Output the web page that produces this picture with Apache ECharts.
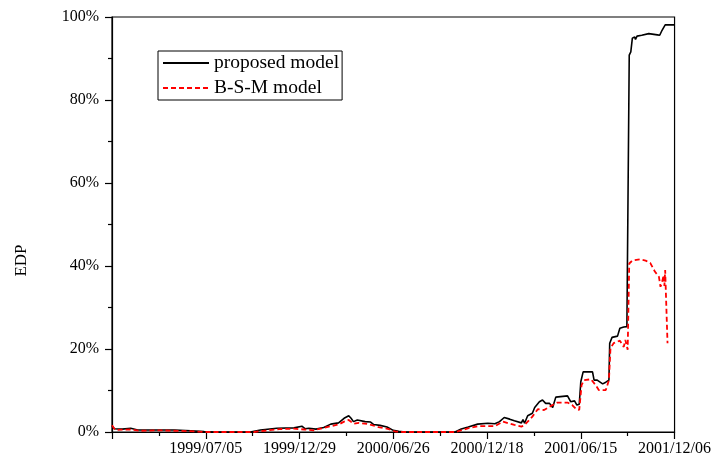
<!DOCTYPE html>
<html>
<head>
<meta charset="utf-8">
<script src="https://cdn.jsdelivr.net/npm/echarts@6/dist/echarts.min.js"></script>
<style>
  html, body { margin: 0; padding: 0; background: #fff; }
  #main { width: 714px; height: 463px; }
</style>
</head>
<body>
<div id="main"></div>
<script>
// x = trading day index, tick every 120 days
var xTickLabels = ['', '1999/07/05', '1999/12/29', '2000/06/26', '2000/12/18', '2001/06/15', '2001/12/06'];
var yTickLabels = ['0%', '20%', '40%', '60%', '80%', '100%'];

var proposedDay = [0, 3, 13, 24, 33, 59, 80, 101, 118, 131, 177, 190, 211, 233, 243, 247, 252, 261, 271, 280,
    290, 297, 303, 306, 309, 314, 324, 331, 335, 343, 352, 360, 367, 375, 439, 447, 456, 468, 481, 490,
    496, 502, 509, 515, 524, 526, 528, 532, 538, 541, 547, 551, 555, 560, 564, 568, 583, 587, 592, 595,
    598, 600, 603, 615, 617, 621, 628, 632, 636, 637, 640, 647, 650, 655, 659, 661, 662, 664, 666, 669,
    670, 672, 678, 687, 698, 701, 704, 708, 720];
var proposedEdp = [1.5, 0.8, 0.7, 0.9, 0.5, 0.5, 0.5, 0.3, 0.1, 0.0, 0.0, 0.5, 0.9, 1.0, 1.4, 0.8, 0.9, 0.7, 1.1, 1.9,
    2.2, 3.3, 3.9, 3.3, 2.5, 2.9, 2.5, 2.4, 1.8, 1.6, 1.2, 0.4, 0.2, 0.0, 0.0, 0.7, 1.2, 1.9, 2.1, 2.0,
    2.5, 3.5, 3.1, 2.7, 2.2, 3.0, 2.1, 3.9, 4.5, 5.9, 7.3, 7.7, 6.9, 6.9, 5.9, 8.4, 8.7, 7.3, 7.5, 6.5,
    6.7, 12.1, 14.5, 14.5, 12.5, 12.5, 11.6, 12.0, 12.5, 21.4, 22.8, 23.1, 25.0, 25.3, 25.4, 25.4, 90.8, 91.6, 94.9, 95.2,
    94.6, 95.4, 95.6, 96.0, 95.7, 95.6, 96.8, 98.1, 98.1];

var bsmDay = [0, 4, 23, 36, 61, 99, 118, 182, 195, 214, 233, 246, 258, 271, 280, 290, 297, 303, 309, 316,
    328, 341, 354, 363, 373, 440, 449, 458, 468, 490, 500, 507, 515, 524, 528, 538, 545, 553, 560, 570,
    583, 589, 594, 598, 601, 604, 613, 619, 623, 632, 636, 638, 642, 650, 655, 657, 660, 662, 666, 676,
    683, 689, 695, 700, 702, 704, 706, 707, 708, 709, 711];
var bsmEdp = [1.6, 0.5, 0.6, 0.3, 0.4, 0.2, 0.0, 0.0, 0.3, 0.7, 0.8, 0.6, 0.4, 1.0, 1.4, 1.8, 2.5, 2.9, 2.0, 2.2,
    1.9, 1.2, 0.7, 0.1, 0.0, 0.0, 0.5, 1.0, 1.4, 1.4, 2.5, 2.1, 1.7, 1.3, 1.7, 3.7, 5.5, 5.3, 6.1, 7.1,
    7.1, 6.5, 5.5, 5.3, 11.3, 12.5, 12.7, 11.3, 10.1, 10.1, 12.5, 20.2, 21.4, 22.0, 20.5, 22.2, 19.8, 40.6, 41.3, 41.6,
    41.3, 40.7, 38.6, 37.4, 35.0, 36.1, 37.8, 35.2, 39.0, 33.0, 21.4];

function pairs(xs, ys) {
    var out = [];
    for (var i = 0; i < xs.length; i++) {
        out.push([xs[i], ys[i]]);
    }
    return out;
}

var chart = echarts.init(document.getElementById('main'), null, { renderer: 'canvas' });
var serif = '"Liberation Serif", "Times New Roman", serif';

var option = {
    animation: false,
    backgroundColor: '#fff',
    textStyle: { fontFamily: serif, color: '#000' },
    grid: {
        left: 112,
        right: 36,
        top: 17,
        bottom: 31,
        show: true,
        borderColor: '#000',
        borderWidth: 1.2
    },
    legend: {
        orient: 'vertical',
        left: 158,
        top: 51,
        padding: [2, 3, 2, 4],
        itemGap: 5,
        itemWidth: 46,
        itemHeight: 14,
        itemStyle: { opacity: 0 },
        borderColor: '#000',
        borderWidth: 1,
        backgroundColor: '#fff',
        textStyle: { fontFamily: serif, fontSize: 19.5, color: '#000', padding: [0, 0, 0, 0] },
        data: ['proposed model', 'B-S-M model']
    },
    xAxis: {
        type: 'value',
        min: 0,
        max: 720,
        interval: 120,
        axisLine: { lineStyle: { color: '#000', width: 1.2 } },
        axisTick: { inside: false, length: 7, lineStyle: { color: '#000', width: 1.2 } },
        minorTick: { show: true, splitNumber: 2, length: 4, lineStyle: { color: '#000', width: 1.2 } },
        splitLine: { show: false },
        axisLabel: {
            fontFamily: serif,
            fontSize: 16,
            color: '#000',
            margin: 9,
            formatter: function (v) { return xTickLabels[Math.round(v / 120)] || ''; }
        }
    },
    yAxis: {
        type: 'value',
        min: 0,
        max: 100,
        interval: 20,
        name: 'EDP',
        nameLocation: 'middle',
        nameRotate: 90,
        nameGap: 82,
        nameTextStyle: { fontFamily: serif, fontSize: 17, color: '#000', padding: [0, 72, 0, 0] },
        axisLine: { show: true, lineStyle: { color: '#000', width: 1.2 } },
        axisTick: { show: true, inside: false, length: 7, lineStyle: { color: '#000', width: 1.2 } },
        minorTick: { show: true, splitNumber: 2, length: 4, lineStyle: { color: '#000', width: 1.2 } },
        splitLine: { show: false },
        axisLabel: {
            fontFamily: serif,
            fontSize: 16,
            color: '#000',
            margin: 13,
            formatter: function (v) { return yTickLabels[Math.round(v / 20)]; }
        }
    },
    series: [
        {
            name: 'proposed model',
            type: 'line',
            symbol: 'none',
            data: pairs(proposedDay, proposedEdp),
            lineStyle: { color: '#000', width: 1.6 },
            itemStyle: { color: '#000' }
        },
        {
            name: 'B-S-M model',
            type: 'line',
            symbol: 'none',
            data: pairs(bsmDay, bsmEdp),
            lineStyle: { color: '#ff0000', width: 1.8, type: [5, 3] },
            itemStyle: { color: '#ff0000' }
        }
    ]
};

chart.setOption(option);
</script>
</body>
</html>
